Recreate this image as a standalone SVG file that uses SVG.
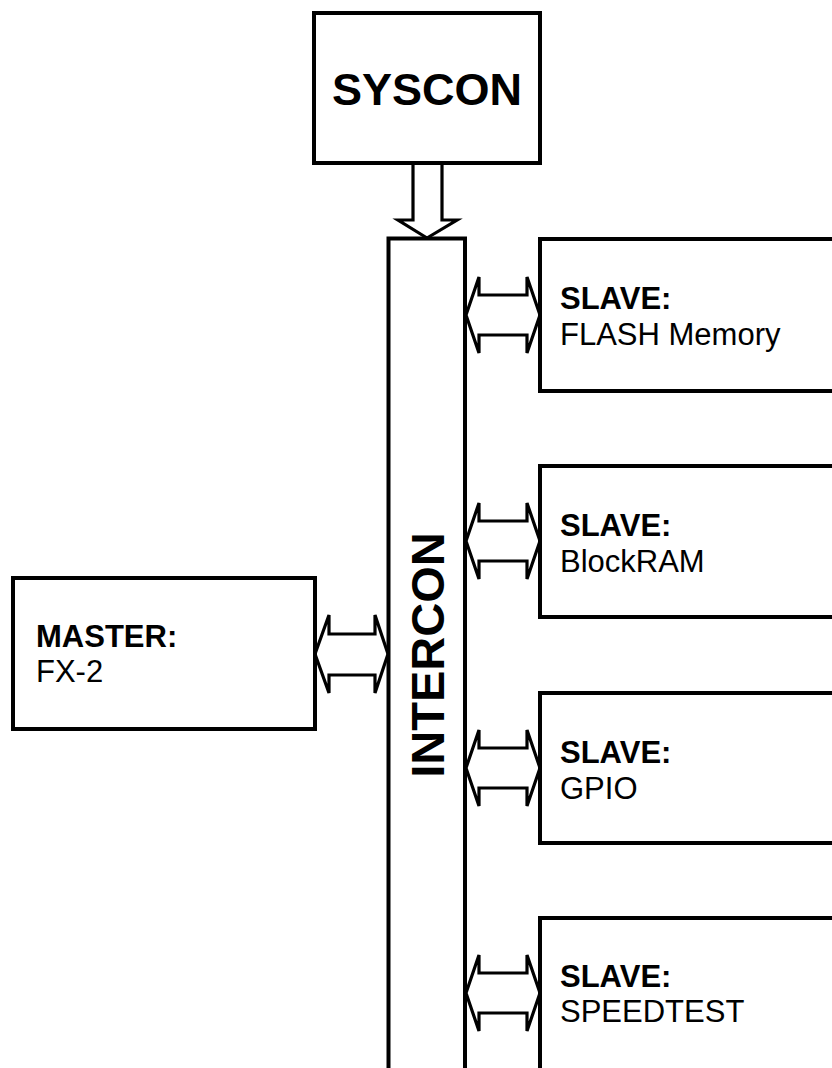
<svg xmlns="http://www.w3.org/2000/svg" width="832" height="1068" viewBox="0 0 832 1068">
<style>
.box{fill:#fff;stroke:#000;stroke-width:4}
.arr{fill:#fff;stroke:#000;stroke-width:3.2;stroke-linejoin:miter}
.b{font-family:"Liberation Sans",Arial,sans-serif;font-weight:bold;fill:#000}
.n{font-family:"Liberation Sans",Arial,sans-serif;fill:#000}
</style>
<rect width="832" height="1068" fill="#fff"/>
<g id="connectors">
<polygon class="arr" points="413,163 442,163 442,220 457,220 427,238 398,220 413,220"/>
<polygon class="arr" points="315,654 329,615 329,634 375,634 375,615 388,654 375,693 375,675 329,675 329,693"/>
<polygon class="arr" points="466,315 479,277 479,295 527,295 527,277 540,315 527,353 527,335 479,335 479,353"/>
<polygon class="arr" points="466,541 479,503 479,521 527,521 527,503 540,541 527,579 527,561 479,561 479,579"/>
<polygon class="arr" points="466,768 479,730 479,748 527,748 527,730 540,768 527,806 527,788 479,788 479,806"/>
<polygon class="arr" points="466,993 479,955 479,973 527,973 527,955 540,993 527,1031 527,1013 479,1013 479,1031"/>
</g>
<g id="syscon">
<rect class="box" x="314" y="13" width="226" height="150"/>
<text class="b" x="427" y="105" font-size="45" text-anchor="middle">SYSCON</text>
</g>
<g id="intercon">
<path class="box" d="M388.5,1075 V238.5 H465 V1075"/>
<text class="b" transform="translate(444,655) rotate(-90)" font-size="47" text-anchor="middle">INTERCON</text>
</g>
<g id="master">
<rect class="box" x="13" y="578" width="302" height="151"/>
<text class="b" x="36" y="647" font-size="31">MASTER:</text>
<text class="n" x="36" y="682" font-size="31">FX-2</text>
</g>
<g id="slave-flash">
<rect class="box" x="540" y="239" width="310" height="152"/>
<text class="b" x="560" y="309" font-size="31">SLAVE:</text>
<text class="n" x="560" y="345" font-size="31">FLASH Memory</text>
</g>
<g id="slave-blockram">
<rect class="box" x="540" y="466" width="310" height="151"/>
<text class="b" x="560" y="536" font-size="31">SLAVE:</text>
<text class="n" x="560" y="572" font-size="31">BlockRAM</text>
</g>
<g id="slave-gpio">
<rect class="box" x="540" y="693" width="310" height="150"/>
<text class="b" x="560" y="763" font-size="31">SLAVE:</text>
<text class="n" x="560" y="799" font-size="31">GPIO</text>
</g>
<g id="slave-speedtest">
<rect class="box" x="540" y="918" width="310" height="170"/>
<text class="b" x="560" y="987" font-size="31">SLAVE:</text>
<text class="n" x="560" y="1022" font-size="31">SPEEDTEST</text>
</g>
</svg>
